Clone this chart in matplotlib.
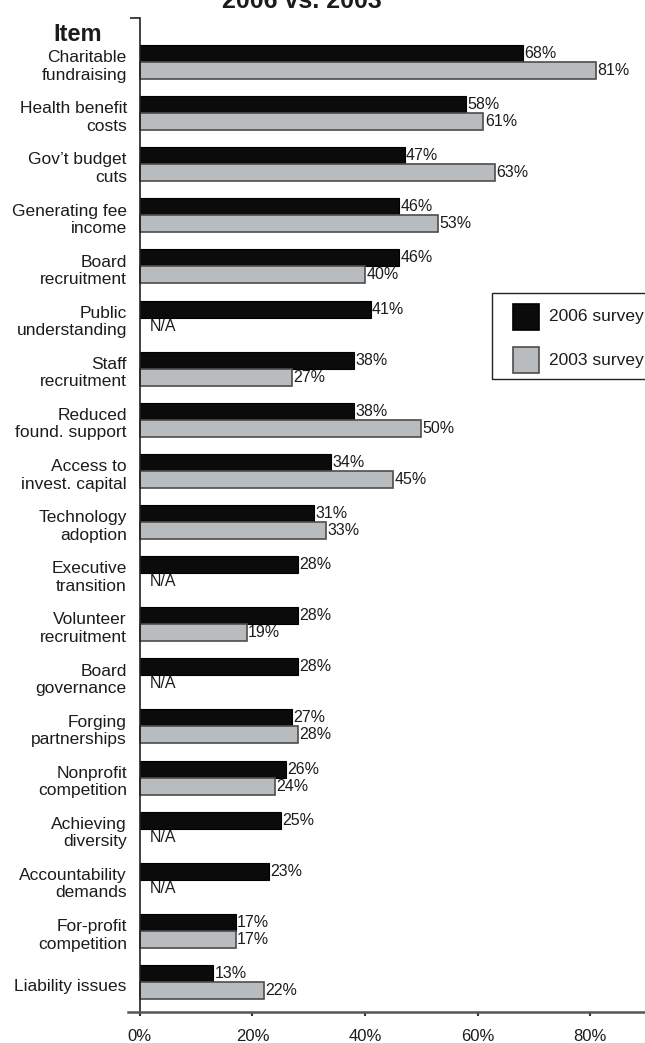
import matplotlib.pyplot as plt
from matplotlib.patches import Rectangle
import numpy as np

plt.rcParams["font.family"] = ["Liberation Sans", "DejaVu Sans"]

# ── Data ──────────────────────────────────────────────────────────────────────
items = [
    "Charitable\nfundraising", "Health benefit\ncosts", "Gov\u2019t budget\ncuts",
    "Generating fee\nincome", "Board\nrecruitment", "Public\nunderstanding",
    "Staff\nrecruitment", "Reduced\nfound. support", "Access to\ninvest. capital",
    "Technology\nadoption", "Executive\ntransition", "Volunteer\nrecruitment",
    "Board\ngovernance", "Forging\npartnerships", "Nonprofit\ncompetition",
    "Achieving\ndiversity", "Accountability\ndemands", "For-profit\ncompetition",
    "Liability issues",
]
survey_2006 = [68, 58, 47, 46, 46, 41, 38, 38, 34, 31, 28, 28, 28, 27, 26, 25, 23, 17, 13]
survey_2003 = [81, 61, 63, 53, 40, None, 27, 50, 45, 33, None, 19, None, 28, 24, None, None, 17, 22]
x_ticks = [0, 20, 40, 60, 80]

# ── Style ─────────────────────────────────────────────────────────────────────
BLACK = "#0b0b0b"
GRAY = "#b9bcbe"
GRAY_EDGE = "#4d4d4d"
TEXT = "#1c1c1c"
FS_LABEL = 12.5   # category names, legend
FS_VALUE = 11.5   # bar values, N/A
FS_TICK = 12
W, H = 645, 1043
BAR_H = 0.332

fig = plt.figure(figsize=(W / 100, H / 100), dpi=100)
ax = fig.add_axes([128 / W, 1 - 1012 / H, 1 - 128 / W, (1012 - 18) / H])

y = np.arange(len(items))
b06 = ax.barh(y - BAR_H / 2, survey_2006, height=BAR_H, color=BLACK,
              edgecolor="#000000", linewidth=0.8)
ax.bar_label(b06, labels=[f"{v}%" for v in survey_2006], padding=1,
             fontsize=FS_VALUE, color=TEXT)

have = [i for i, v in enumerate(survey_2003) if v is not None]
vals03 = [survey_2003[i] for i in have]
b03 = ax.barh(y[have] + BAR_H / 2, vals03, height=BAR_H, color=GRAY,
              edgecolor=GRAY_EDGE, linewidth=1.2)
ax.bar_label(b03, labels=[f"{v}%" for v in vals03], padding=1,
             fontsize=FS_VALUE, color=TEXT)

for i, v in enumerate(survey_2003):
    if v is None:
        ax.annotate("N/A", xy=(0, i + BAR_H / 2), xytext=(7.5, 0),
                    textcoords="offset points", va="center", ha="left",
                    fontsize=FS_VALUE, color=TEXT)

# category names, right-aligned left of the axis, sitting a little low
for i, name in enumerate(items):
    ax.annotate(name, xy=(0, i), xytext=(-9.4, -3.2),
                textcoords="offset points", ha="right", va="center",
                multialignment="right", fontsize=FS_LABEL, color=TEXT,
                annotation_clip=False)

# ── Axes ──────────────────────────────────────────────────────────────────────
ax.set_xlim(-2.1, 89.7)
ax.set_ylim(18.586, -0.86)

ax.set_yticks([])
ax.set_yticks([-0.86], minor=True)
ax.tick_params(axis="y", which="minor", length=7, width=1.2, color="#222222")

ax.set_xticks(x_ticks, [f"{t}%" for t in x_ticks])
ax.tick_params(axis="x", length=3, width=1.5, color="#333333", pad=9,
               labelsize=FS_TICK, labelcolor=TEXT)

for side in ("top", "right"):
    ax.spines[side].set_visible(False)
ax.spines["left"].set_position(("data", 0))
ax.spines["left"].set_color("#222222")
ax.spines["left"].set_linewidth(1.2)
ax.spines["bottom"].set_color("#555555")
ax.spines["bottom"].set_linewidth(1.8)

# ── Titles ────────────────────────────────────────────────────────────────────
fig.text(302 / W, 1 - 8 / H, "2006 vs. 2003", ha="center", va="baseline",
         fontsize=18, fontweight="bold", color=TEXT)
fig.text(78 / W, 1 - 41 / H, "Item", ha="center", va="baseline",
         fontsize=17, fontweight="bold", color=TEXT)

# ── Legend box ────────────────────────────────────────────────────────────────
tf = fig.transFigure
fig.patches.append(Rectangle((492 / W, 1 - 379 / H), 200 / W, 86 / H,
                             transform=tf, fill=False, edgecolor="#222222",
                             linewidth=1.0))
for (top, face, edge, label) in [(304, BLACK, "#000000", "2006 survey"),
                                 (347, GRAY, GRAY_EDGE, "2003 survey")]:
    fig.patches.append(Rectangle((513 / W, 1 - (top + 26) / H), 26 / W, 26 / H,
                                 transform=tf, facecolor=face, edgecolor=edge,
                                 linewidth=1.2))
    fig.text(549 / W, 1 - (top + 13) / H, label, ha="left", va="center",
             fontsize=FS_LABEL, color=TEXT)

fig.savefig("out.png", dpi=100)
